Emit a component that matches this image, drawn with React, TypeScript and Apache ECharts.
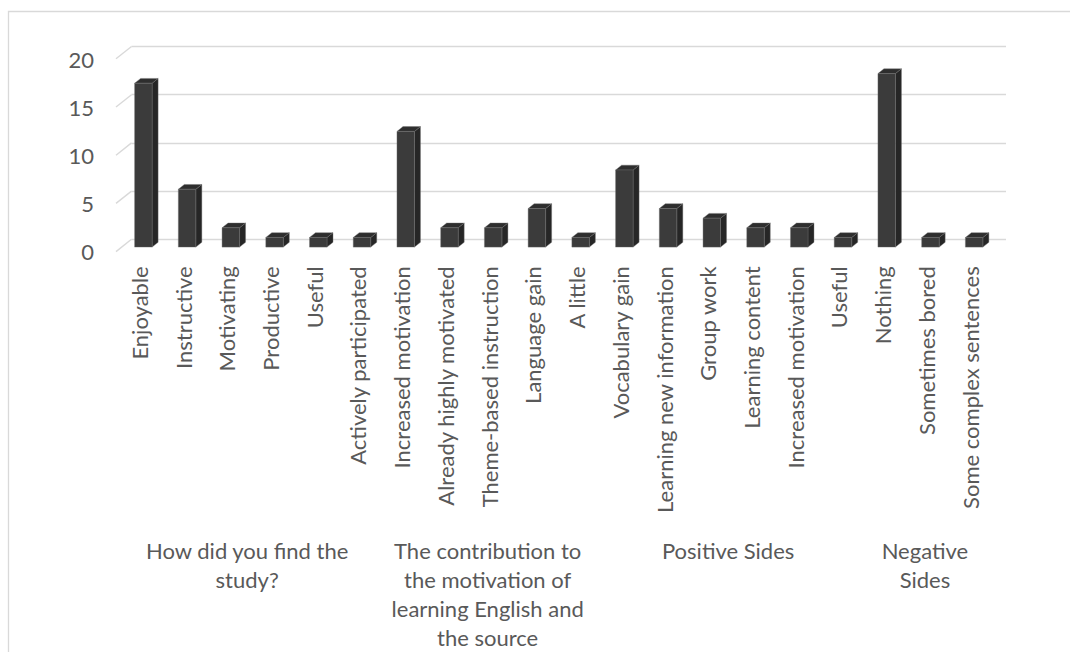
import React, { useEffect, useRef } from "react";
import * as echarts from "echarts";

const categories = [
  "Enjoyable", "Instructive", "Motivating", "Productive", "Useful", "Actively participated",
  "Increased motivation", "Already highly motivated", "Theme-based instruction", "Language gain", "A little",
  "Vocabulary gain", "Learning new information", "Group work", "Learning content", "Increased motivation", "Useful",
  "Nothing", "Sometimes bored", "Some complex sentences",
];
const values = [17, 6, 2, 1, 1, 1, 12, 2, 2, 4, 1, 8, 4, 3, 2, 2, 1, 18, 1, 1];
const groupNames = [
  "How did you find the\nstudy?",
  "The contribution to\nthe motivation of\nlearning English and\nthe source",
  "Positive Sides",
  "Negative\nSides",
];
const groupStart = [0, 6, 11, 17];
const groupEnd = [5, 10, 16, 19];
const yTicks = [0, 5, 10, 15, 20];

const FONT = "Lato";
const TEXT = "#595959";
const FS = 22;

export default function App() {
  const ref = useRef<HTMLDivElement>(null);
  useEffect(() => {
    const chart = echarts.init(ref.current!, null, { renderer: "svg" });
    const FDX = -15.5, FDY = 12.3; // floor depth (front offset)
    const BX = -10, BY = 7.8; // bar front offset
    const DX = 6, DY = -4.8; // bar depth
    chart.setOption({
      animation: false,
      backgroundColor: "#ffffff",
      graphic: [
        {
          type: "rect",
          shape: { x: 8.5, y: 11.5, width: 1200, height: 800 },
          style: { fill: "none", stroke: "#d9d9d9", lineWidth: 1.3 },
          silent: true,
        },
      ],
      grid: { left: 131.5, right: 64, top: 46.5, height: 192.8, containLabel: false },
      xAxis: {
        type: "category",
        data: categories,
        axisLine: { show: false },
        axisTick: { show: false },
        axisLabel: {
          interval: 0,
          rotate: 90,
          margin: 27,
          color: TEXT,
          fontFamily: FONT,
          fontSize: FS,
          verticalAlign: "bottom",
          lineHeight: 28,
        },
      },
      yAxis: {
        type: "value",
        min: 0,
        max: 20,
        interval: 5,
        axisLine: { show: false },
        axisTick: { show: false },
        splitLine: { lineStyle: { color: "#d9d9d9", width: 1.4 } },
        axisLabel: {
          margin: 37.5,
          color: TEXT,
          fontFamily: FONT,
          fontSize: FS,
          verticalAlign: "top",
          lineHeight: 25,
        },
      },
      series: [
        {
          type: "custom",
          silent: true,
          data: yTicks.map((v) => [0, v]),
          renderItem: (params: any, api: any) => {
            const p = api.coord([0, api.value(1)]);
            const left = params.coordSys.x;
            return {
              type: "line",
              shape: { x1: left, y1: p[1], x2: left + FDX, y2: p[1] + FDY },
              style: { stroke: "#d9d9d9", lineWidth: 1.4 },
            };
          },
        },
        {
          type: "custom",
          data: values.map((v, i) => [i, v]),
          renderItem: (params: any, api: any) => {
            const i = api.value(0);
            const v = api.value(1);
            const top = api.coord([i, v]);
            const base = api.coord([i, 0]);
            const bw = api.size([1, 0])[0] * 0.4;
            const fx = top[0] + BX;
            const x0 = fx - bw / 2, x1 = fx + bw / 2;
            const yt = top[1] + BY, yb = base[1] + BY;
            return {
              type: "group",
              children: [
                {
                  type: "polygon",
                  shape: { points: [[x1, yt], [x1 + DX, yt + DY], [x1 + DX, yb + DY], [x1, yb]] },
                  style: { fill: "#262626", stroke: "#6e6e6e", lineWidth: 0.4 },
                },
                {
                  type: "polygon",
                  shape: { points: [[x0, yt], [x0 + DX, yt + DY], [x1 + DX, yt + DY], [x1, yt]] },
                  style: { fill: "#2e2e2e", stroke: "#6e6e6e", lineWidth: 0.4 },
                },
                {
                  type: "rect",
                  shape: { x: x0, y: yt, width: bw, height: yb - yt },
                  style: { fill: "#3b3b3b", stroke: "#6e6e6e", lineWidth: 0.4 },
                },
              ],
            };
          },
        },
        {
          type: "custom",
          silent: true,
          data: groupNames.map((n, g) => [groupStart[g], 0, groupEnd[g], g]),
          renderItem: (params: any, api: any) => {
            const s = api.coord([api.value(0), 0]);
            const e = api.coord([api.value(2), 0]);
            const g = api.value(3);
            return {
              type: "text",
              x: (s[0] + e[0]) / 2 + FDX,
              y: s[1] + 297,
              style: {
                text: groupNames[g],
                fill: TEXT,
                font: `${FS}px ${FONT}`,
                fontFamily: FONT,
                fontSize: FS,
                lineHeight: 29,
                align: "center",
                verticalAlign: "top",
              },
            };
          },
        },
      ],
    });
    return () => chart.dispose();
  }, []);
  return (
    <div
      ref={ref}
      style={{ position: "absolute", left: 0, top: 0, width: 1070, height: 652 }}
    />
  );
}
